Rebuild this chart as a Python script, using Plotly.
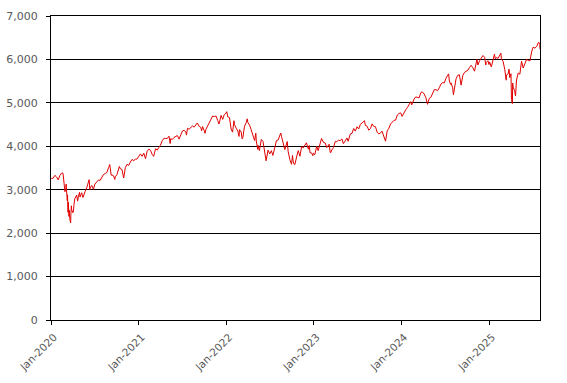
import plotly.graph_objects as go

# S&P 500-style index level (weekly closes plus key daily extremes)
dates_2020 = ["2020-01-02","2020-01-10","2020-01-17","2020-01-24","2020-01-31","2020-02-07","2020-02-14","2020-02-19",
              "2020-02-21","2020-02-25","2020-02-27","2020-02-28","2020-03-03","2020-03-04","2020-03-06","2020-03-09",
              "2020-03-10","2020-03-12","2020-03-13","2020-03-16","2020-03-17","2020-03-20","2020-03-23","2020-03-24",
              "2020-03-26","2020-03-27","2020-04-01","2020-04-03","2020-04-06","2020-04-09","2020-04-17","2020-04-21",
              "2020-04-24","2020-04-29","2020-05-01","2020-05-08","2020-05-13","2020-05-15","2020-05-22","2020-05-29",
              "2020-06-05","2020-06-08","2020-06-11","2020-06-12","2020-06-19","2020-06-26","2020-07-02","2020-07-10",
              "2020-07-17","2020-07-24","2020-07-31","2020-08-07","2020-08-14","2020-08-21","2020-08-28","2020-09-02",
              "2020-09-08","2020-09-11","2020-09-18","2020-09-23","2020-09-25","2020-10-02","2020-10-09","2020-10-12",
              "2020-10-16","2020-10-23","2020-10-30","2020-11-06","2020-11-13","2020-11-20","2020-11-27","2020-12-04",
              "2020-12-11","2020-12-18","2020-12-24","2020-12-31"]
values_2020 = [3258,3265,3330,3295,3226,3328,3380,3386,
               3338,3128,2979,2954,3003,3130,2972,2747,
               2882,2481,2711,2386,2529,2305,2237,2447,
               2630,2541,2470,2489,2664,2790,2875,2737,
               2837,2939,2831,2930,2820,2864,2955,3044,
               3194,3232,3002,3041,3098,3009,3130,3185,
               3225,3216,3271,3351,3373,3397,3508,3580,
               3332,3341,3319,3237,3298,3348,3477,3535,
               3484,3465,3270,3510,3585,3558,3638,3699,
               3663,3709,3703,3756]

dates_2021 = ["2021-01-08","2021-01-15","2021-01-22","2021-01-29","2021-02-05","2021-02-12","2021-02-19","2021-02-26",
              "2021-03-04","2021-03-12","2021-03-19","2021-03-26","2021-04-01","2021-04-09","2021-04-16","2021-04-23",
              "2021-04-30","2021-05-07","2021-05-12","2021-05-14","2021-05-21","2021-05-28","2021-06-04","2021-06-11",
              "2021-06-18","2021-06-25","2021-07-02","2021-07-09","2021-07-16","2021-07-19","2021-07-23","2021-07-30",
              "2021-08-06","2021-08-13","2021-08-20","2021-08-27","2021-09-02","2021-09-10","2021-09-17","2021-09-20",
              "2021-09-24","2021-10-01","2021-10-04","2021-10-08","2021-10-15","2021-10-22","2021-10-29","2021-11-05",
              "2021-11-12","2021-11-19","2021-11-26","2021-12-01","2021-12-03","2021-12-10","2021-12-17","2021-12-23",
              "2021-12-31"]
values_2021 = [3825,3768,3841,3714,3887,3934,3907,3811,
               3768,3943,3913,3975,4020,4129,4185,4180,
               4181,4233,4063,4174,4156,4204,4230,4247,
               4166,4281,4352,4370,4327,4258,4412,4395,
               4437,4468,4442,4509,4537,4459,4433,4358,
               4455,4357,4300,4391,4471,4545,4605,4697,
               4683,4698,4595,4513,4538,4712,4620,4726,
               4766]

dates_2022 = ["2022-01-03","2022-01-07","2022-01-14","2022-01-21","2022-01-27","2022-02-02","2022-02-04","2022-02-11",
              "2022-02-18","2022-02-23","2022-02-25","2022-03-04","2022-03-08","2022-03-11","2022-03-18","2022-03-25",
              "2022-03-29","2022-04-01","2022-04-08","2022-04-14","2022-04-22","2022-04-26","2022-04-29","2022-05-04",
              "2022-05-06","2022-05-12","2022-05-13","2022-05-19","2022-05-27","2022-06-03","2022-06-10","2022-06-16",
              "2022-06-24","2022-07-01","2022-07-08","2022-07-14","2022-07-22","2022-07-29","2022-08-05","2022-08-16",
              "2022-08-19","2022-08-26","2022-09-02","2022-09-12","2022-09-13","2022-09-16","2022-09-23","2022-09-30",
              "2022-10-04","2022-10-07","2022-10-12","2022-10-14","2022-10-21","2022-10-28","2022-11-04","2022-11-11",
              "2022-11-18","2022-11-25","2022-12-01","2022-12-09","2022-12-13","2022-12-16","2022-12-23","2022-12-28",
              "2022-12-30"]
values_2022 = [4797,4677,4663,4398,4326,4589,4501,4419,
               4349,4226,4385,4329,4171,4204,4463,4543,
               4632,4546,4488,4393,4272,4175,4132,4301,
               4123,3930,4024,3901,4158,4109,3901,3667,
               3912,3825,3899,3790,3962,4130,4145,4305,
               4228,4058,3924,4110,3932,3873,3693,3586,
               3791,3640,3577,3583,3753,3901,3771,3993,
               3965,4026,4080,3934,4019,3852,3845,3783,
               3840]

dates_2023 = ["2023-01-05","2023-01-13","2023-01-19","2023-01-27","2023-02-02","2023-02-10","2023-02-17","2023-02-24",
              "2023-03-03","2023-03-06","2023-03-10","2023-03-13","2023-03-17","2023-03-24","2023-03-31","2023-04-06",
              "2023-04-14","2023-04-21","2023-04-28","2023-05-04","2023-05-12","2023-05-19","2023-05-24","2023-06-02",
              "2023-06-09","2023-06-16","2023-06-23","2023-06-30","2023-07-07","2023-07-14","2023-07-21","2023-07-31",
              "2023-08-04","2023-08-11","2023-08-18","2023-08-25","2023-09-01","2023-09-08","2023-09-15","2023-09-22",
              "2023-09-29","2023-10-06","2023-10-12","2023-10-20","2023-10-27","2023-11-03","2023-11-10","2023-11-17",
              "2023-11-24","2023-12-01","2023-12-08","2023-12-15","2023-12-22","2023-12-29"]
values_2023 = [3808,3999,3899,4071,4180,4090,4079,3970,
               4046,4048,3862,3855,3917,3971,4109,4105,
               4138,4133,4169,4061,4124,4192,4115,4282,
               4299,4410,4348,4450,4399,4505,4536,4589,
               4478,4464,4370,4406,4516,4457,4450,4320,
               4288,4309,4349,4224,4117,4358,4415,4514,
               4559,4595,4604,4719,4755,4770]

dates_2024 = ["2024-01-04","2024-01-12","2024-01-19","2024-01-26","2024-02-02","2024-02-09","2024-02-13","2024-02-16",
              "2024-02-23","2024-03-01","2024-03-08","2024-03-15","2024-03-22","2024-03-28","2024-04-05","2024-04-12",
              "2024-04-19","2024-04-26","2024-05-03","2024-05-10","2024-05-17","2024-05-24","2024-05-31","2024-06-07",
              "2024-06-14","2024-06-21","2024-06-28","2024-07-05","2024-07-12","2024-07-16","2024-07-19","2024-07-24",
              "2024-07-26","2024-08-02","2024-08-05","2024-08-09","2024-08-16","2024-08-23","2024-08-30","2024-09-06",
              "2024-09-13","2024-09-20","2024-09-27","2024-10-04","2024-10-11","2024-10-18","2024-10-25","2024-11-01",
              "2024-11-11","2024-11-15","2024-11-22","2024-11-29","2024-12-06","2024-12-13","2024-12-18","2024-12-20",
              "2024-12-27","2024-12-31"]
values_2024 = [4689,4784,4840,4891,4959,5027,4953,5006,
               5089,5137,5124,5117,5234,5254,5204,5123,
               4967,5100,5128,5223,5303,5305,5278,5347,
               5432,5465,5460,5567,5615,5667,5505,5427,
               5459,5346,5186,5344,5554,5634,5648,5408,
               5626,5703,5738,5751,5815,5864,5808,5729,
               6001,5871,5969,6032,6090,6051,5872,5931,
               5971,5882]

dates_2025 = ["2025-01-03","2025-01-10","2025-01-17","2025-01-23","2025-01-27","2025-01-31","2025-02-07","2025-02-14",
              "2025-02-19","2025-02-21","2025-02-28","2025-03-07","2025-03-10","2025-03-13","2025-03-14","2025-03-21",
              "2025-03-25","2025-03-28","2025-04-02","2025-04-04","2025-04-08","2025-04-09","2025-04-10","2025-04-11",
              "2025-04-17","2025-04-21","2025-04-25","2025-05-02","2025-05-09","2025-05-16","2025-05-23","2025-05-30",
              "2025-06-06","2025-06-13","2025-06-20","2025-06-27","2025-07-03","2025-07-11","2025-07-18","2025-07-25",
              "2025-07-28","2025-07-31","2025-08-01"]
values_2025 = [5942,5827,5997,6119,6012,6041,6026,6115,
               6144,6013,5955,5770,5615,5522,5639,5667,
               5777,5581,5671,5074,4983,5457,5268,5363,
               5283,5158,5525,5687,5660,5958,5803,5912,
               6000,5977,5967,6173,6279,6260,6297,6389,
               6390,6339,6238]

dates = dates_2020 + dates_2021 + dates_2022 + dates_2023 + dates_2024 + dates_2025
values = values_2020 + values_2021 + values_2022 + values_2023 + values_2024 + values_2025

tick_vals = ["2020-01-01","2021-01-01","2022-01-01","2023-01-01","2024-01-01","2025-01-01"]
tick_text = ["Jan-2020","Jan-2021","Jan-2022","Jan-2023","Jan-2024","Jan-2025"]

fig = go.Figure()
fig.add_trace(go.Scatter(x=dates, y=values, mode="lines",
                         line=dict(color="#e00000", width=1), showlegend=False,
                         hoverinfo="skip"))

y_font = dict(family="DejaVu Sans", size=11, color="#595959")
x_font = dict(family="DejaVu Sans", size=10.5, color="#595959")
fig.update_layout(
    width=567, height=383,
    margin=dict(l=51, r=27, t=16, b=63),
    paper_bgcolor="white", plot_bgcolor="white",
    showlegend=False,
)
fig.update_xaxes(
    type="date", range=["2020-01-01", "2025-08-01"],
    tickvals=tick_vals, ticktext=tick_text, tickangle=-45,
    tickfont=x_font, showgrid=False, zeroline=False, automargin=False,
    showline=True, linecolor="black", linewidth=1, mirror=True,
    ticks="outside", ticklen=4, tickcolor="black",
    ticklabelstandoff=2, ticklabelshift=3,
)
fig.update_yaxes(
    range=[0, 7000], dtick=1000, tickformat=",d", automargin=False,
    tickfont=y_font, showgrid=True, gridcolor="black", gridwidth=1,
    zeroline=False, showline=True, linecolor="black", linewidth=1, mirror=True,
    ticks="outside", ticklen=4, tickcolor="black",
    ticklabelstandoff=6,
)

fig.write_html("out.html", config={"displayModeBar": False},
               post_script="document.body.style.margin='0';document.body.style.padding='0';")
